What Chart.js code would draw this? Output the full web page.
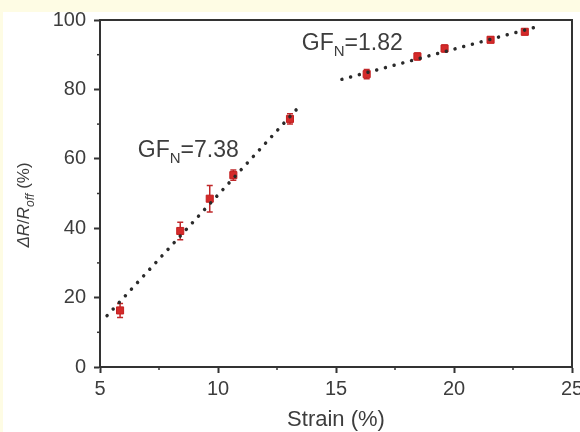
<!DOCTYPE html>
<html><head><meta charset="utf-8">
<script src="https://cdn.jsdelivr.net/npm/chart.js@4"></script>
<style>html,body{margin:0;padding:0;background:#fefce4;}canvas{display:block;}</style>
</head><body>
<canvas id="c" width="580" height="432"></canvas>
<script>
// ---- data ----
const strain   = [5.85, 8.4, 9.65, 10.65, 13.05, 16.3, 18.45, 19.6, 21.55, 23.0];
const response = [16.3, 39.2, 48.5, 55.3, 71.5, 84.4, 89.5, 91.8, 94.3, 96.6];
const errors   = [2.0, 2.5, 3.8, 1.5, 1.5, 1.3, 1.0, 1.0, 0.8, 0.8];
const fitLowX  = [5.3, 13.5];
const fitLowY  = [14.8, 75.5];
const fitHighX = [15.25, 23.6];
const fitHighY = [82.9, 98.2];
const yTicks = [0, 20, 40, 60, 80, 100];
const xTicks = [5, 10, 15, 20, 25];
const labels = [
  {main: 'GF', sub: 'N', rest: '=7.38', x: 6.6, y: 60.5},
  {main: 'GF', sub: 'N', rest: '=1.82', x: 13.55, y: 91.4}
];

const TXT = '#3d3d3d';
const FONT = '"Liberation Sans", Arial, sans-serif';

const pts = (xs, ys) => xs.map((x, i) => ({x, y: ys[i]}));

const bgPlugin = {
  id: 'bg',
  beforeDraw(chart) {
    const c = chart.ctx;
    c.save();
    c.fillStyle = '#fefce4';
    c.fillRect(0, 0, chart.width, chart.height);
    c.fillStyle = '#ffffff';
    c.fillRect(3, 12, chart.width - 3, chart.height - 12);
    c.restore();
  }
};

const decoPlugin = {
  id: 'deco',
  beforeDatasetsDraw(chart) {
    const c = chart.ctx, xs = chart.scales.x, ys = chart.scales.y, a = chart.chartArea;
    c.save();
    // minor ticks
    c.strokeStyle = '#333'; c.lineWidth = 1.5;
    for (let v = 10; v < 100; v += 20) {
      const py = ys.getPixelForValue(v);
      c.beginPath(); c.moveTo(a.left - 3, py); c.lineTo(a.left, py); c.stroke();
    }
    for (let v = 7.5; v < 25; v += 5) {
      const px = xs.getPixelForValue(v);
      c.beginPath(); c.moveTo(px, a.bottom); c.lineTo(px, a.bottom + 3); c.stroke();
    }
    // frame
    c.lineWidth = 2; c.strokeStyle = '#333';
    c.strokeRect(a.left, a.top, a.right - a.left, a.bottom - a.top);
    // error bars
    c.strokeStyle = '#c0282a'; c.lineWidth = 1.5;
    strain.forEach((sx, i) => {
      const px = xs.getPixelForValue(sx);
      const top = ys.getPixelForValue(response[i] + errors[i]);
      const bot = ys.getPixelForValue(response[i] - errors[i]);
      c.beginPath();
      c.moveTo(px, top); c.lineTo(px, bot);
      c.moveTo(px - 3, top); c.lineTo(px + 3, top);
      c.moveTo(px - 3, bot); c.lineTo(px + 3, bot);
      c.stroke();
    });
    c.restore();
  },
  afterDraw(chart) {
    const c = chart.ctx, xs = chart.scales.x, ys = chart.scales.y, a = chart.chartArea;
    c.save();
    c.fillStyle = TXT;
    c.textBaseline = 'alphabetic';
    // annotations
    labels.forEach(l => {
      let px = xs.getPixelForValue(l.x);
      const py = ys.getPixelForValue(l.y);
      c.font = '23px ' + FONT;
      c.textAlign = 'left';
      c.fillText(l.main, px, py); px += c.measureText(l.main).width;
      c.font = '15px ' + FONT;
      c.fillText(l.sub, px, py + 6); px += c.measureText(l.sub).width;
      c.font = '23px ' + FONT;
      c.fillText(l.rest, px, py);
    });
    // x title
    c.font = '22px ' + FONT;
    c.textAlign = 'center';
    c.fillText('Strain (%)', (a.left + a.right) / 2, 426);
    // y title (rotated)
    c.translate(29, 205);
    c.rotate(-Math.PI / 2);
    const parts = [
      {t: '\u0394', f: 'italic 17px ' + FONT, dy: 0},
      {t: 'R', f: 'italic 17px ' + FONT, dy: 0},
      {t: '/', f: '17px ' + FONT, dy: 0},
      {t: 'R', f: 'italic 17px ' + FONT, dy: 0},
      {t: 'off', f: 'italic 12px ' + FONT, dy: 5},
      {t: ' (%)', f: '17px ' + FONT, dy: 0}
    ];
    let w = 0;
    parts.forEach(p => { c.font = p.f; w += c.measureText(p.t).width; });
    let x = -w / 2;
    c.textAlign = 'left';
    parts.forEach(p => { c.font = p.f; c.fillText(p.t, x, p.dy); x += c.measureText(p.t).width; });
    c.restore();
  }
};

new Chart(document.getElementById('c'), {
  data: {
    datasets: [
      {type: 'scatter', data: pts(strain, response), pointStyle: 'rect', pointRadius: 5,
       backgroundColor: '#d42a2a', borderColor: '#c42020', borderWidth: 1, order: 2},
      {type: 'line', data: pts(fitLowX, fitLowY), borderColor: '#2a2a2a', borderWidth: 3.5,
       borderDash: [0.01, 9], borderCapStyle: 'round', pointRadius: 0, fill: false, order: 1},
      {type: 'line', data: pts(fitHighX, fitHighY), borderColor: '#2a2a2a', borderWidth: 3.5,
       borderDash: [0.01, 9], borderCapStyle: 'round', pointRadius: 0, fill: false, order: 1}
    ]
  },
  options: {
    responsive: false, devicePixelRatio: 1, animation: false,
    layout: {padding: {top: 20, right: 8, left: 0, bottom: 0}},
    plugins: {legend: {display: false}, tooltip: {enabled: false}},
    scales: {
      x: {
        type: 'linear', min: 5, max: 25,
        afterBuildTicks: s => { s.ticks = xTicks.map(v => ({value: v})); },
        afterFit: s => { s.height = 65; s.paddingLeft = 0; s.paddingRight = 0; },
        ticks: {color: TXT, font: {family: FONT, size: 20}, padding: 4, maxRotation: 0, autoSkip: false},
        grid: {drawOnChartArea: false, tickLength: 6, tickColor: '#333', tickWidth: 2},
        border: {display: true, color: '#333', width: 2}
      },
      y: {
        type: 'linear', min: 0, max: 100,
        afterBuildTicks: s => { s.ticks = yTicks.map(v => ({value: v})); },
        afterFit: s => { s.width = 100; s.paddingTop = 0; s.paddingBottom = 0; },
        ticks: {color: TXT, font: {family: FONT, size: 20}, padding: 8, autoSkip: false},
        grid: {drawOnChartArea: false, tickLength: 6, tickColor: '#333', tickWidth: 2},
        border: {display: true, color: '#333', width: 2}
      }
    }
  },
  plugins: [bgPlugin, decoPlugin]
});
</script>
</body></html>
